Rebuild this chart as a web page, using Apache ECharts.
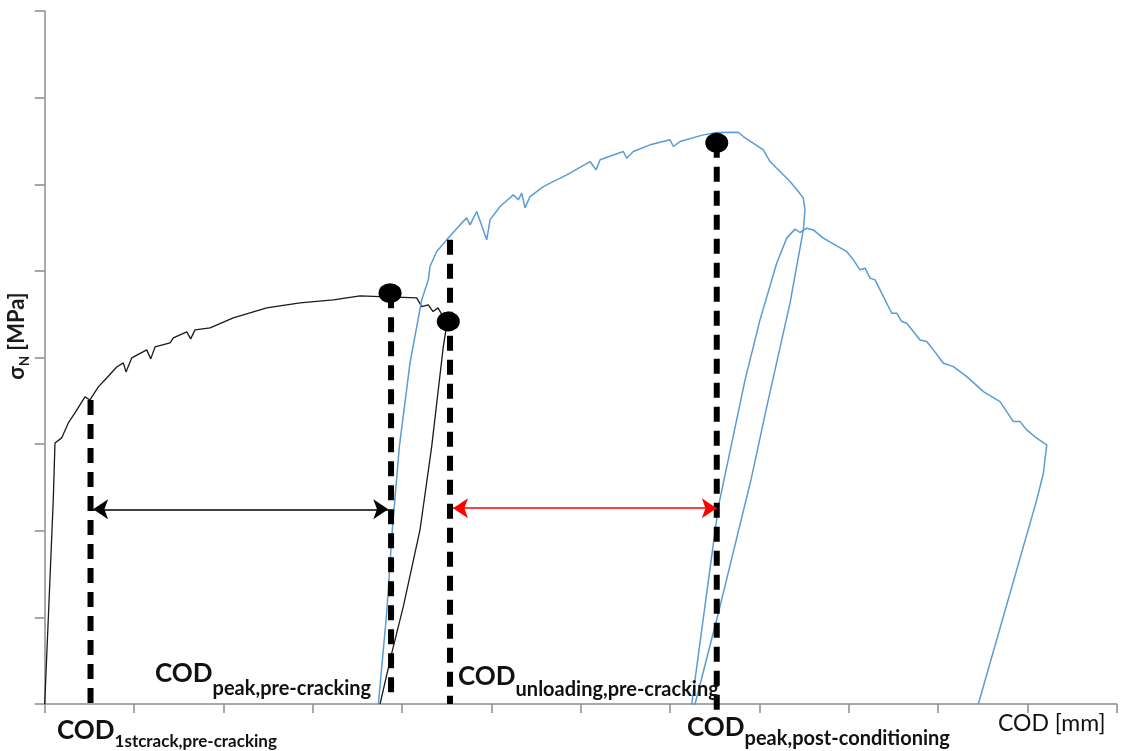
<!DOCTYPE html>
<html>
<head>
<meta charset="utf-8">
<script src="https://cdn.jsdelivr.net/npm/echarts@6/dist/echarts.min.js"></script>
<style>
html,body{margin:0;padding:0;background:#fff;}
#c{width:1121px;height:751px;}
</style>
</head>
<body>
<div id="c"></div>
<script>
// Axis ranges (tick units; the original has no tick labels)
const xTicks = [0, 12, 1];
const yTicks = [0, 8, 1];

// Pre-cracking curve (black): loading, softening, unloading
const preCracking = [[0,0],[0.096,2.356],[0.115,3.014],[0.190,3.072],[0.264,3.245],[0.339,3.360],[0.451,3.545],[0.507,3.510],[0.600,3.661],[0.694,3.764],[0.806,3.891],[0.880,3.938],[0.910,3.834],[0.974,3.995],[1.142,4.088],[1.187,3.984],[1.235,4.122],[1.403,4.169],[1.440,4.226],[1.590,4.296],[1.634,4.215],[1.683,4.319],[1.851,4.342],[2.111,4.457],[2.485,4.573],[2.858,4.630],[3.231,4.665],[3.530,4.711],[3.754,4.703],[3.865,4.700],[4.164,4.688],[4.220,4.588],[4.294,4.607],[4.347,4.530],[4.403,4.573],[4.459,4.472],[4.518,4.411],[4.500,4.376],[4.462,4.126],[4.332,2.971],[4.201,2.009],[4.014,1.124],[3.884,0.585],[3.754,0]];

// Post-conditioning curve (blue): loading, unloading, reloading, softening, unloading
const postConditioning = [[3.735,0],[3.828,1.047],[3.891,2.009],[3.970,2.971],[4.089,3.934],[4.220,4.665],[4.294,4.896],[4.313,5.050],[4.388,5.223],[4.500,5.358],[4.649,5.531],[4.724,5.612],[4.761,5.531],[4.836,5.685],[4.948,5.358],[4.985,5.589],[5.097,5.743],[5.246,5.878],[5.302,5.820],[5.340,5.897],[5.377,5.727],[5.433,5.858],[5.582,5.973],[5.657,6.013],[5.844,6.109],[6.105,6.262],[6.172,6.166],[6.217,6.282],[6.477,6.378],[6.515,6.301],[6.589,6.378],[6.776,6.455],[7.000,6.513],[7.037,6.436],[7.112,6.493],[7.373,6.570],[7.523,6.597],[7.765,6.601],[7.820,6.551],[8.044,6.397],[8.119,6.262],[8.231,6.147],[8.343,6.032],[8.436,5.916],[8.492,5.840],[8.511,5.704],[8.492,5.473],[8.343,4.627],[8.083,3.433],[7.906,2.587],[7.541,1.051],[7.280,0],[7.243,0],[7.541,2.278],[7.840,3.741],[8.007,4.434],[8.194,5.089],[8.306,5.378],[8.399,5.482],[8.455,5.443],[8.530,5.493],[8.604,5.473],[8.716,5.378],[8.978,5.223],[9.052,5.127],[9.127,5.012],[9.183,5.031],[9.239,4.916],[9.295,4.896],[9.351,4.781],[9.482,4.511],[9.538,4.511],[9.594,4.415],[9.650,4.396],[9.799,4.203],[9.874,4.184],[9.948,4.088],[10.060,3.934],[10.172,3.895],[10.322,3.779],[10.508,3.606],[10.694,3.491],[10.843,3.260],[10.918,3.260],[10.993,3.164],[11.105,3.068],[11.217,2.991],[11.179,2.664],[11.105,2.356],[10.451,0]];

// Marked points (peaks / unloading)
const markedPoints = [[3.866,4.743],[4.518,4.415],[7.523,6.478]];

// Vertical reference lines: [x, yTop, yBottom]
const verticalLines = [[0.513,3.510,0],[3.877,4.743,0.127],[4.537,5.358,0],[7.523,6.478,-0.08]];

// Double arrows: [xStart, xEnd, y]
const arrowBlack = [0.542, 3.846, 2.248];
const arrowRed = [4.571, 7.523, 2.260];

// Annotation texts
const labels = [
  {main:'COD', sub:'1stcrack,pre-cracking', x:57, y:718, drop:15, subSize:17},
  {main:'COD', sub:'peak,pre-cracking', x:155, y:661, drop:18, subSize:20},
  {main:'COD', sub:'unloading,pre-cracking', x:458, y:664, drop:16, subSize:20},
  {main:'COD', sub:'peak,post-conditioning', x:687, y:715, drop:14, subSize:20}
];
const xName = 'COD [mm]';
const yNameMain = 'σ', yNameSub = 'N', yNameRest = ' [MPa]';

const FONT = 'Lato, "Open Sans", sans-serif';
const chart = echarts.init(document.getElementById('c'), null, {renderer:'canvas'});

const series = [
  {type:'line', data:preCracking, symbol:'none', smooth:false, lineStyle:{color:'#1a1a1a', width:1.3}, z:2},
  {type:'line', data:postConditioning, symbol:'none', smooth:false, lineStyle:{color:'#5b9bd5', width:1.5}, z:2}
];
verticalLines.forEach(v => {
  series.push({type:'line', data:[[v[0],v[1]],[v[0],v[2]]], symbol:'none', clip:false,
    lineStyle:{color:'#000', width:6, type:[15,9]}, z:3});
});
series.push({type:'lines', coordinateSystem:'cartesian2d', symbol:['arrow','arrow'], symbolSize:15,
  lineStyle:{color:'#000', width:1.5, opacity:1}, z:4,
  data:[{coords:[[arrowBlack[0],arrowBlack[2]],[arrowBlack[1],arrowBlack[2]]]}]});
series.push({type:'lines', coordinateSystem:'cartesian2d', symbol:['arrow','arrow'], symbolSize:15,
  lineStyle:{color:'#ff0000', width:1.5, opacity:1}, z:4,
  data:[{coords:[[arrowRed[0],arrowRed[2]],[arrowRed[1],arrowRed[2]]]}]});
series.push({type:'scatter', data:markedPoints, symbol:'circle', symbolSize:[23,20],
  itemStyle:{color:'#000', opacity:1}, z:5});

const graphic = labels.map(l => ({
  type:'text', x:l.x, y:l.y, z:10,
  style:{
    text:'{a|' + l.main + '}{b|' + l.sub + '}',
    verticalAlign:'top', align:'left',
    rich:{
      a:{fontFamily:FONT, fontWeight:'bold', fontSize:26, lineHeight:30, verticalAlign:'top', fill:'#111', color:'#111'},
      b:{fontFamily:FONT, fontWeight:'bold', fontSize:l.subSize, lineHeight:l.subSize, verticalAlign:'top', padding:[l.drop,0,0,0], fill:'#111', color:'#111'}
    }
  }
}));
graphic.push({type:'text', x:998, y:712, z:10,
  style:{text:xName, font:'23px ' + FONT, fill:'#111', verticalAlign:'top'}});
graphic.push({type:'text', x:19, y:336, rotation:Math.PI/2, z:10,
  style:{text:'{a|' + yNameMain + '}{b|' + yNameSub + '}{a|' + yNameRest + '}',
    align:'center', verticalAlign:'middle',
    rich:{
      a:{fontFamily:FONT, fontWeight:'bold', fontSize:22, lineHeight:26, verticalAlign:'top', fill:'#1a1a1a', color:'#1a1a1a'},
      b:{fontFamily:FONT, fontWeight:'bold', fontSize:13, lineHeight:13, verticalAlign:'top', padding:[12,0,0,0], fill:'#1a1a1a', color:'#1a1a1a'}
    }}});

chart.setOption({
  animation:false,
  backgroundColor:'#fff',
  grid:{left:44.7, right:4.3, top:11, bottom:47, containLabel:false},
  xAxis:{type:'value', min:xTicks[0], max:xTicks[1], interval:xTicks[2],
    axisLine:{show:true, onZero:false, lineStyle:{color:'#8c8c8c', width:1.5}},
    axisTick:{show:true, inside:false, length:9, lineStyle:{color:'#8c8c8c', width:1.5}},
    axisLabel:{show:false}, splitLine:{show:false}},
  yAxis:{type:'value', min:yTicks[0], max:yTicks[1], interval:yTicks[2],
    axisLine:{show:true, onZero:false, lineStyle:{color:'#8c8c8c', width:1.5}},
    axisTick:{show:true, inside:false, length:10, lineStyle:{color:'#8c8c8c', width:1.5}},
    axisLabel:{show:false}, splitLine:{show:false}},
  series:series,
  graphic:graphic
});
</script>
</body>
</html>
